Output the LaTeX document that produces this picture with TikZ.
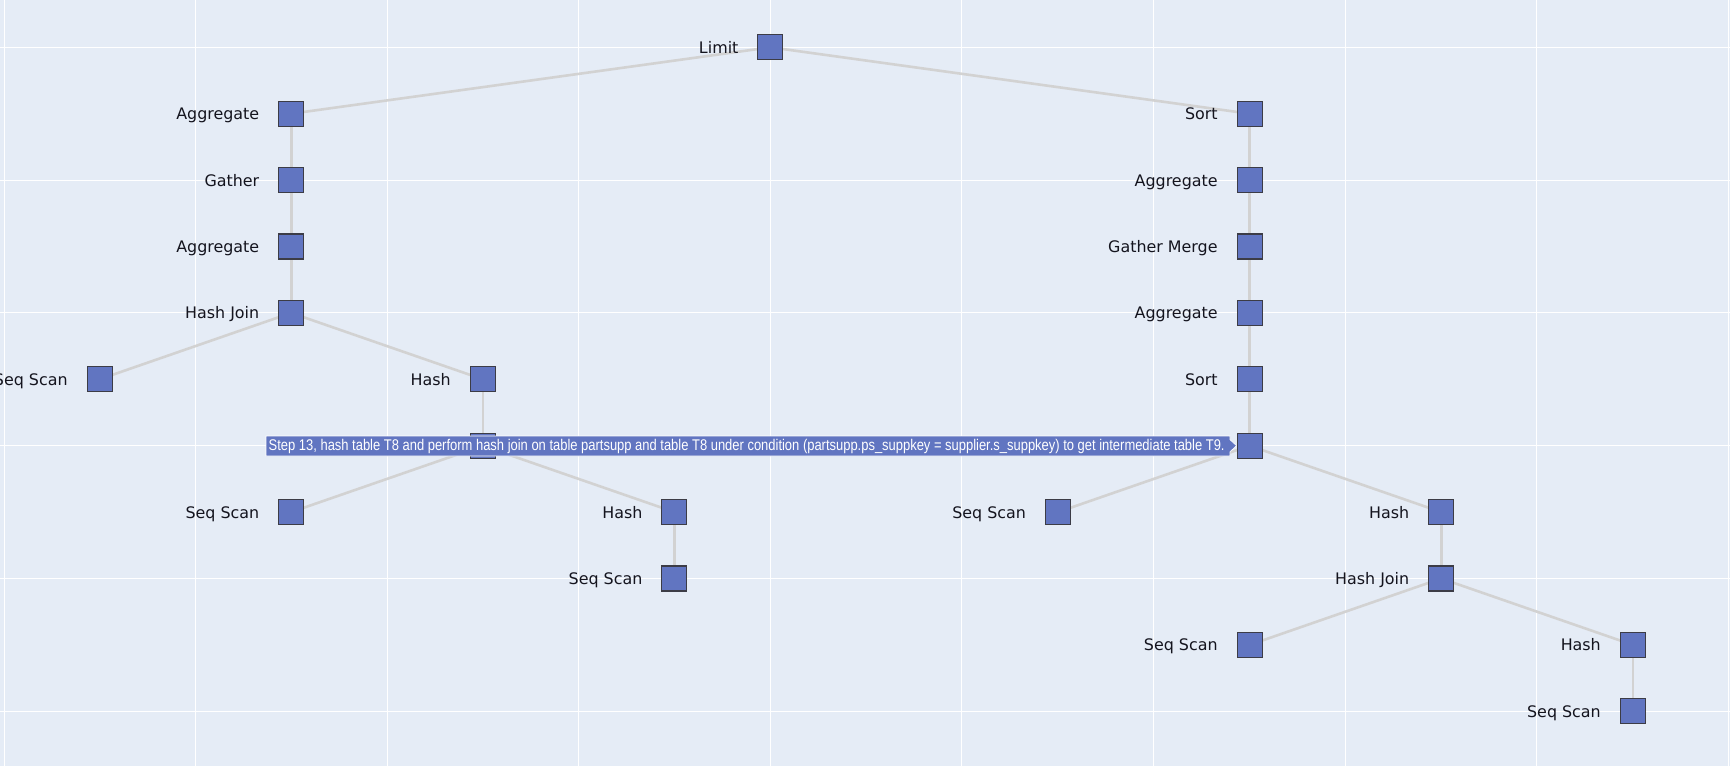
\documentclass[tikz,border=0pt]{standalone}
\usepackage{fontspec}
\usepackage{graphicx}
\setmainfont{DejaVu Sans}
\newfontfamily\tipfont{Liberation Sans}
\definecolor{plotbg}{HTML}{E5ECF6}
\definecolor{nodefill}{HTML}{6175C1}
\definecolor{nodeline}{RGB}{60,60,70}
\definecolor{edgecol}{RGB}{210,210,210}
\definecolor{labelcol}{RGB}{20,20,30}
\pgfdeclarelayer{bg}
\pgfdeclarelayer{edges}
\pgfsetlayers{bg,edges,main}
\tikzset{
  sq/.style={draw=nodeline, fill=nodefill, line width=1.1pt, minimum size=25pt, inner sep=0pt, rectangle},
  lbl/.style={anchor=base east, inner sep=0pt, text=labelcol, font=\fontsize{15.9}{18}\selectfont},
  edge/.style={draw=edgecol, line width=2.6pt},
  grid/.style={draw=white, line width=1pt},
}
\newcommand{\lab}[2]{\node[lbl] (t#1) at ([shift={(-31.8,6.0)}]#1.center) {#2};}
\begin{document}
\begin{tikzpicture}[x=1pt,y=-1pt]
\useasboundingbox (0,0) rectangle (1730,771);
\clip (0,0) rectangle (1730,771);
\begin{pgfonlayer}{bg}
  \fill[white] (0,0) rectangle (1730,771);
  \fill[plotbg] (0,0) rectangle (1730,766);
  \foreach \gx in {4.2,195.75,387.3,578.85,770.4,961.95,1153.5,1345.05,1536.6,1728.15}
    \draw[grid] (\gx,0) -- (\gx,766);
  \foreach \gy in {47.3,180.1,312.9,445.7,578.5,711.3}
    \draw[grid] (0,\gy) -- (1730,\gy);
\end{pgfonlayer}

% nodes
\node[sq] (lim) at (770.4,47.3) {};
\node[sq] (la1) at (291.2,113.7) {};
\node[sq] (lg2) at (291.2,180.1) {};
\node[sq] (la3) at (291.2,246.5) {};
\node[sq] (lhj4) at (291.2,312.9) {};
\node[sq] (lss5) at (99.6,379.3) {};
\node[sq] (lh5) at (482.8,379.3) {};
\node[sq] (lhj6) at (482.8,445.7) {};
\node[sq] (lss7) at (291.2,512.1) {};
\node[sq] (lh7) at (674.4,512.1) {};
\node[sq] (lss8) at (674.4,578.5) {};

\node[sq] (rs1) at (1249.6,113.7) {};
\node[sq] (ra2) at (1249.6,180.1) {};
\node[sq] (rgm3) at (1249.6,246.5) {};
\node[sq] (ra4) at (1249.6,312.9) {};
\node[sq] (rs5) at (1249.6,379.3) {};
\node[sq] (rhj6) at (1249.6,445.7) {};
\node[sq] (rss7) at (1058.0,512.1) {};
\node[sq] (rh7) at (1441.2,512.1) {};
\node[sq] (rhj8) at (1441.2,578.5) {};
\node[sq] (rss9) at (1249.6,644.9) {};
\node[sq] (rh9) at (1632.8,644.9) {};
\node[sq] (rss10) at (1632.8,711.3) {};

% edges
\begin{pgfonlayer}{edges}
  \draw[edge] (lim.center) -- (la1.center);
  \draw[edge] (lim.center) -- (rs1.center);
  \draw[edge] (la1.center) -- (lg2.center) -- (la3.center) -- (lhj4.center);
  \draw[edge] (lhj4.center) -- (lss5.center);
  \draw[edge] (lhj4.center) -- (lh5.center);
  \draw[edge] (lh5.center) -- (lhj6.center);
  \draw[edge] (lhj6.center) -- (lss7.center);
  \draw[edge] (lhj6.center) -- (lh7.center);
  \draw[edge] (lh7.center) -- (lss8.center);
  \draw[edge] (rs1.center) -- (ra2.center) -- (rgm3.center) -- (ra4.center) -- (rs5.center) -- (rhj6.center);
  \draw[edge] (rhj6.center) -- (rss7.center);
  \draw[edge] (rhj6.center) -- (rh7.center);
  \draw[edge] (rh7.center) -- (rhj8.center);
  \draw[edge] (rhj8.center) -- (rss9.center);
  \draw[edge] (rhj8.center) -- (rh9.center);
  \draw[edge] (rh9.center) -- (rss10.center);
\end{pgfonlayer}

% labels
\lab{lim}{Limit}
\lab{la1}{Aggregate}
\lab{lg2}{Gather}
\lab{la3}{Aggregate}
\lab{lhj4}{Hash Join}
\lab{lss5}{Seq Scan}
\lab{lh5}{Hash}
\lab{lss7}{Seq Scan}
\lab{lh7}{Hash}
\lab{lss8}{Seq Scan}
\lab{rs1}{Sort}
\lab{ra2}{Aggregate}
\lab{rgm3}{Gather Merge}
\lab{ra4}{Aggregate}
\lab{rs5}{Sort}
\lab{rss7}{Seq Scan}
\lab{rh7}{Hash}
\lab{rhj8}{Hash Join}
\lab{rss9}{Seq Scan}
\lab{rh9}{Hash}
\lab{rss10}{Seq Scan}

% hover tooltip
\fill[nodefill] (266,436) -- (1230,436) -- (1230,439.7) -- (1236.5,445.7) -- (1230,451.7) -- (1230,456) -- (266,456) -- cycle;
\draw[white, line width=0.6pt] (266,436) -- (1230,436) -- (1230,439.7) -- (1236.5,445.7) -- (1230,451.7) -- (1230,456) -- (266,456) -- cycle;
\node[anchor=base west, inner sep=0pt, text=white, font=\tipfont\fontsize{15.5}{18}\selectfont] (tip) at (268.5,450.8)
  {\resizebox{956pt}{\height}{Step 13, hash table T8 and perform hash join on table partsupp and table T8 under condition (partsupp.ps\_suppkey = supplier.s\_suppkey) to get intermediate table T9.}};
\end{tikzpicture}
\end{document}
